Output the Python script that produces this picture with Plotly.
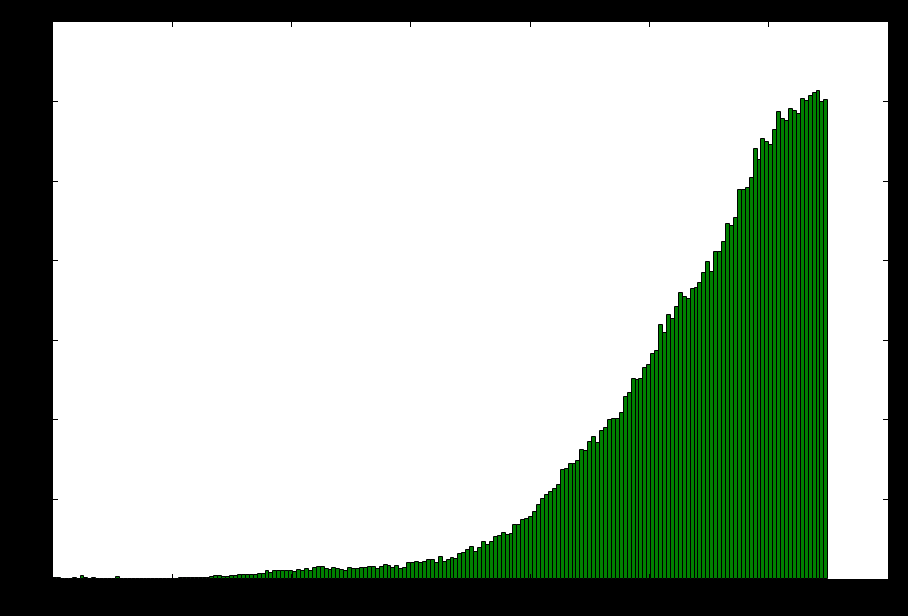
import numpy as np
import plotly.graph_objects as go

# Bar heights (y axis units 0..7), left to right
heights_a = [0.013, 0.013, 0.006, 0.006, 0.006, 0.013, 0.006, 0.038, 0.013, 0.006,
             0.013, 0.006, 0.004, 0.004, 0.004, 0.006, 0.031, 0.006, 0.004, 0.004,
             0.004, 0.004, 0.004, 0.006, 0.004, 0.004, 0.004, 0.004, 0.004, 0.004,
             0.004, 0.004, 0.009, 0.009, 0.009, 0.009, 0.013, 0.013, 0.013, 0.016,
             0.021, 0.034, 0.034, 0.021, 0.019, 0.034, 0.034, 0.047, 0.047, 0.047,
             0.047, 0.047, 0.059, 0.059, 0.097, 0.072, 0.104, 0.104, 0.104, 0.097,
             0.097, 0.088]
heights_b = [0.113, 0.104, 0.122, 0.097, 0.134, 0.147, 0.147, 0.122, 0.109, 0.134,
             0.122, 0.117, 0.101, 0.134, 0.122, 0.122, 0.134, 0.134, 0.147, 0.147,
             0.122, 0.147, 0.172, 0.160, 0.134, 0.160, 0.122, 0.134, 0.197, 0.197,
             0.214, 0.197, 0.214, 0.235, 0.235, 0.197, 0.273, 0.210, 0.235, 0.260,
             0.248, 0.310, 0.327, 0.361, 0.398, 0.336, 0.386, 0.461, 0.424, 0.461,
             0.524, 0.537, 0.574, 0.549, 0.562, 0.675, 0.675, 0.738, 0.750, 0.775,
             0.838, 0.926, 1.009, 1.052, 1.097, 1.131, 1.181]
heights_c = [1.366, 1.379, 1.442, 1.442, 1.483, 1.617, 1.605, 1.718, 1.781, 1.705,
             1.856, 1.894, 1.995, 2.007, 2.007, 2.083, 2.284, 2.334, 2.510, 2.497,
             2.510, 2.648, 2.686, 2.824, 2.862, 3.188, 3.088, 3.314, 3.264, 3.415,
             3.591, 3.540, 3.515, 3.641, 3.653, 3.716]
heights_d = [3.842, 3.980, 3.855, 4.106, 4.106, 4.232, 4.458, 4.433, 4.537, 4.889,
             4.889, 4.910, 5.036, 5.400, 5.262, 5.526, 5.488, 5.451, 5.639, 5.865,
             5.778, 5.752, 5.903, 5.878, 5.840, 6.029, 6.011, 6.066, 6.104, 6.129,
             5.991, 6.016]

x_start = 0.0
x_end = 6.5
tick_values = [0, 1, 2, 3, 4, 5, 6, 7]
tick_labels = ["0", "1", "2", "3", "4", "5", "6", "7"]

heights = heights_a + heights_b + heights_c + heights_d
n = len(heights)
edges = np.linspace(x_start, x_end, n + 1)
centers = (edges[:-1] + edges[1:]) / 2
width = edges[1] - edges[0]

fig = go.Figure(
    go.Bar(
        x=centers,
        y=heights,
        width=width,
        marker=dict(color="#008000", line=dict(color="black", width=1)),
        showlegend=False,
    )
)

axis_common = dict(
    range=[0, 7],
    tickmode="array",
    tickvals=tick_values,
    ticktext=tick_labels,
    ticks="inside",
    ticklen=5,
    tickwidth=1,
    tickcolor="black",
    mirror="ticks",
    showgrid=False,
    zeroline=False,
    showline=False,
    tickfont=dict(color="black", size=11, family="DejaVu Sans"),
)

fig.update_layout(
    width=908,
    height=616,
    margin=dict(l=53, r=20, t=22, b=37),
    paper_bgcolor="black",
    plot_bgcolor="white",
    bargap=0,
    xaxis=dict(axis_common, ticklabelstandoff=6),
    yaxis=dict(axis_common, ticklabelstandoff=10),
)

fig.write_html(
    "out.html",
    config={"displayModeBar": False},
    post_script="document.body.style.margin='0px';document.body.style.padding='0px';"
                "document.body.style.background='black';",
)
